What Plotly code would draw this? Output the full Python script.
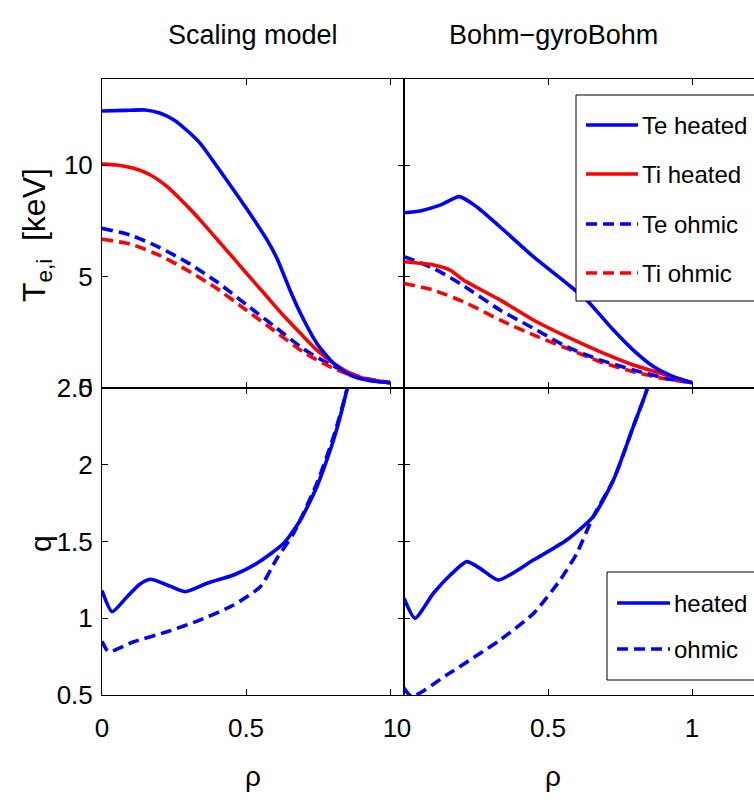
import plotly.graph_objects as go

# ---------------- data ----------------
# Temperature profiles, scaling model
rho_te_h_sc = [0, 0.08, 0.15, 0.2, 0.25, 0.3, 0.341, 0.4, 0.457, 0.5, 0.573, 0.608, 0.654, 0.689, 0.746, 0.804, 0.862, 0.919, 0.96, 1.0]
te_h_sc = [12.42, 12.45, 12.47, 12.33, 12.02, 11.49, 10.97, 9.92, 8.88, 8.08, 6.64, 5.8, 4.35, 3.35, 2.0, 1.11, 0.58, 0.36, 0.28, 0.24]
rho_ti_h_sc = [0, 0.05, 0.11, 0.168, 0.226, 0.3, 0.341, 0.4, 0.457, 0.5, 0.573, 0.63, 0.689, 0.746, 0.804, 0.862, 0.92, 1.0]
ti_h_sc = [10.04, 10.0, 9.85, 9.55, 9.03, 8.1, 7.53, 6.66, 5.81, 5.17, 4.09, 3.25, 2.45, 1.70, 1.11, 0.66, 0.39, 0.24]
rho_ohm_sc = [0, 0.1, 0.2, 0.3, 0.4, 0.5, 0.6, 0.7, 0.8, 0.9, 1.0]
te_o_sc = [7.16, 6.85, 6.3, 5.6, 4.75, 3.75, 2.75, 1.75, 1.0, 0.48, 0.24]
ti_o_sc = [6.67, 6.45, 5.95, 5.25, 4.45, 3.5, 2.55, 1.6, 0.9, 0.42, 0.22]

# Temperature profiles, Bohm-gyroBohm
rho_te_h_bg = [0, 0.056, 0.125, 0.192, 0.252, 0.333, 0.449, 0.565, 0.634, 0.727, 0.796, 0.866, 0.935, 1.0]
te_h_bg = [7.86, 7.94, 8.2, 8.58, 8.13, 7.23, 5.89, 4.69, 3.95, 2.6, 1.70, 0.96, 0.51, 0.24]
rho_ti_h_bg = [0, 0.102, 0.16, 0.206, 0.333, 0.449, 0.565, 0.68, 0.796, 0.912, 1.0]
ti_h_bg = [5.66, 5.52, 5.29, 4.84, 3.95, 3.05, 2.30, 1.63, 1.03, 0.58, 0.24]
rho_te_o_bg = [0, 0.102, 0.194, 0.333, 0.449, 0.565, 0.68, 0.796, 0.912, 1.0]
te_o_bg = [5.89, 5.37, 4.69, 3.5, 2.68, 1.85, 1.26, 0.81, 0.43, 0.24]
rho_ti_o_bg = [0, 0.102, 0.218, 0.333, 0.449, 0.565, 0.68, 0.796, 0.912, 1.0]
ti_o_bg = [4.69, 4.39, 3.80, 3.05, 2.38, 1.78, 1.18, 0.73, 0.40, 0.24]

# Safety factor profiles
rho_q_h_sc = [0, 0.035, 0.087, 0.13, 0.168, 0.226, 0.289, 0.365, 0.457, 0.538, 0.631, 0.689, 0.746, 0.804, 0.85, 0.9]
q_h_sc = [1.18, 1.043, 1.14, 1.22, 1.254, 1.217, 1.173, 1.228, 1.282, 1.358, 1.488, 1.64, 1.857, 2.161, 2.487, 2.95]
rho_q_o_sc = [0, 0.023, 0.11, 0.226, 0.341, 0.457, 0.55, 0.608, 0.665, 0.746, 0.804, 0.85, 0.9]
q_o_sc = [0.85, 0.782, 0.847, 0.912, 0.989, 1.086, 1.206, 1.391, 1.553, 1.879, 2.183, 2.487, 2.95]
rho_q_h_bg = [0, 0.038, 0.102, 0.16, 0.218, 0.264, 0.327, 0.449, 0.565, 0.657, 0.727, 0.796, 0.843, 0.89]
q_h_bg = [1.13, 1.0, 1.163, 1.28, 1.369, 1.325, 1.249, 1.379, 1.51, 1.662, 1.90, 2.248, 2.487, 2.85]
rho_q_o_bg = [0, 0.027, 0.148, 0.333, 0.449, 0.542, 0.6, 0.657, 0.727, 0.796, 0.843, 0.89]
q_o_bg = [0.546, 0.49, 0.63, 0.858, 1.03, 1.249, 1.423, 1.662, 1.90, 2.248, 2.487, 2.85]

panel_titles = ["Scaling model", "Bohm\u2212gyroBohm"]
temp_legend = ["Te heated", "Ti heated", "Te ohmic", "Ti ohmic"]
q_legend = ["heated", "ohmic"]
x_ticks = [0, 0.5, 1]
x_ticktext = ["0", "0.5", "1"]
t_ticks = [0, 5, 10]
q_ticks = [0.5, 1, 1.5, 2, 2.5]
q_ticktext = ["0.5", "1", "1.5", "2", "2.5"]

# ---------------- style ----------------
FONT = "Liberation Sans, Arial, Helvetica, sans-serif"
BLUE = "#0000ff"
RED = "#ff0000"
LW = 3.6
DASH = "11px,6px"

W, H = 754, 802
ML, MT, MB, MR = 102, 79, 107, 0
PW, PH = W - ML - MR, H - MT - MB
XSPLIT = (404 - ML) / PW
YSPLIT = (MT + PH - 388) / PH


def px_x(p):
    return (p - ML) / PW


def px_y(p):
    return (MT + PH - p) / PH


fig = go.Figure()


def add_line(x, y, color, dash, xa, ya):
    fig.add_trace(go.Scatter(
        x=x, y=y, mode="lines", xaxis=xa, yaxis=ya, showlegend=False,
        line=dict(color=color, width=LW, dash=dash, shape="spline", smoothing=0.6),
        hoverinfo="skip",
    ))


# top-left: scaling model temperatures
add_line(rho_ohm_sc, te_o_sc, BLUE, DASH, "x", "y")
add_line(rho_ohm_sc, ti_o_sc, RED, DASH, "x", "y")
add_line(rho_ti_h_sc, ti_h_sc, RED, "solid", "x", "y")
add_line(rho_te_h_sc, te_h_sc, BLUE, "solid", "x", "y")
# top-right: Bohm-gyroBohm temperatures
add_line(rho_ti_o_bg, ti_o_bg, RED, DASH, "x2", "y2")
add_line(rho_te_o_bg, te_o_bg, BLUE, DASH, "x2", "y2")
add_line(rho_ti_h_bg, ti_h_bg, RED, "solid", "x2", "y2")
add_line(rho_te_h_bg, te_h_bg, BLUE, "solid", "x2", "y2")
# bottom-left: q, scaling model
add_line(rho_q_o_sc, q_o_sc, BLUE, DASH, "x3", "y3")
add_line(rho_q_h_sc, q_h_sc, BLUE, "solid", "x3", "y3")
# bottom-right: q, Bohm-gyroBohm
add_line(rho_q_o_bg, q_o_bg, BLUE, DASH, "x4", "y4")
add_line(rho_q_h_bg, q_h_bg, BLUE, "solid", "x4", "y4")

tickfont = dict(family=FONT, size=26, color="black")
common = dict(showgrid=False, zeroline=False, showline=True, linecolor="black",
              linewidth=1, ticks="inside", ticklen=6, tickcolor="black",
              tickfont=tickfont)

xr_left = [0, (404 - ML) / 288]
xr_right = [0, (W - 404) / 288]
t_range = [0, (388 - MT) / 22.3]
q_range = [0.5, 2.5]

fig.update_layout(
    width=W, height=H,
    margin=dict(l=ML, r=MR, t=MT, b=MB),
    paper_bgcolor="white", plot_bgcolor="white",
    font=dict(family=FONT, color="black"),
    xaxis=dict(domain=[0, XSPLIT], range=xr_left, anchor="y", mirror="ticks",
               tickvals=x_ticks, showticklabels=False, **common),
    yaxis=dict(domain=[YSPLIT, 1], range=t_range, anchor="x", mirror="ticks",
               tickvals=t_ticks, ticklabelstandoff=3, **common),
    xaxis2=dict(domain=[XSPLIT, 1], range=xr_right, anchor="y2", mirror="ticks",
                tickvals=x_ticks, showticklabels=False, **common),
    yaxis2=dict(domain=[YSPLIT, 1], range=t_range, anchor="x2", mirror=False,
                tickvals=t_ticks, showticklabels=False, **common),
    xaxis3=dict(domain=[0, XSPLIT], range=xr_left, anchor="y3", mirror="ticks",
                tickvals=x_ticks, ticktext=x_ticktext, ticklabelstandoff=10, **common),
    yaxis3=dict(domain=[0, YSPLIT], range=q_range, anchor="x3", mirror="ticks",
                tickvals=q_ticks, ticktext=q_ticktext, ticklabelstandoff=3, **common),
    xaxis4=dict(domain=[XSPLIT, 1], range=xr_right, anchor="y4", mirror="ticks",
                tickvals=x_ticks, ticktext=x_ticktext, ticklabelstandoff=10, **common),
    yaxis4=dict(domain=[0, YSPLIT], range=q_range, anchor="x4", mirror=False,
                tickvals=q_ticks, showticklabels=False, **common),
)

annotations = [
    dict(text=panel_titles[0], x=px_x(253), y=px_y(35), size=27),
    dict(text=panel_titles[1], x=px_x(553), y=px_y(35), size=27),
    dict(text="T<sub>e,i</sub>  [keV]", x=px_x(36), y=px_y(235), textangle=-90, size=32),
    dict(text="q", x=px_x(40), y=px_y(543), textangle=-90, size=30),
    dict(text="\u03c1", x=px_x(253), y=px_y(776), size=28),
    dict(text="\u03c1", x=px_x(553), y=px_y(776), size=28),
]
for a in annotations:
    size = a.pop("size")
    fig.add_annotation(xref="paper", yref="paper", showarrow=False,
                       xanchor="center", yanchor="middle",
                       font=dict(family=FONT, size=size, color="black"), **a)

# legend boxes drawn over the curves
shapes = []


def legend_box(x0, y0, x1, y1):
    shapes.append(dict(type="rect", xref="paper", yref="paper",
                       x0=px_x(x0), x1=px_x(x1), y0=px_y(y1), y1=px_y(y0),
                       line=dict(color="black", width=1), fillcolor="white",
                       layer="above"))


def legend_entry(label, color, dash, xs0, xs1, xt, yrow):
    shapes.append(dict(type="line", xref="paper", yref="paper",
                       x0=px_x(xs0), x1=px_x(xs1), y0=px_y(yrow), y1=px_y(yrow),
                       line=dict(color=color, width=LW, dash=dash), layer="above"))
    fig.add_annotation(xref="paper", yref="paper", showarrow=False,
                       x=px_x(xt), y=px_y(yrow), xanchor="left", yanchor="middle",
                       text=label, font=dict(family=FONT, size=24, color="black"))


legend_box(576, 95, 800, 301)
temp_styles = [(BLUE, "solid"), (RED, "solid"), (BLUE, DASH), (RED, DASH)]
for lbl, (c, d), yr in zip(temp_legend, temp_styles, [125, 174, 224, 273]):
    legend_entry(lbl, c, d, 586, 638, 640, yr)

legend_box(607, 572, 800, 680)
q_styles = [(BLUE, "solid"), (BLUE, DASH)]
for lbl, (c, d), yr in zip(q_legend, q_styles, [603, 649]):
    legend_entry(lbl, c, d, 617, 670, 672, yr)

fig.update_layout(shapes=shapes)
fig.write_html("out.html")
